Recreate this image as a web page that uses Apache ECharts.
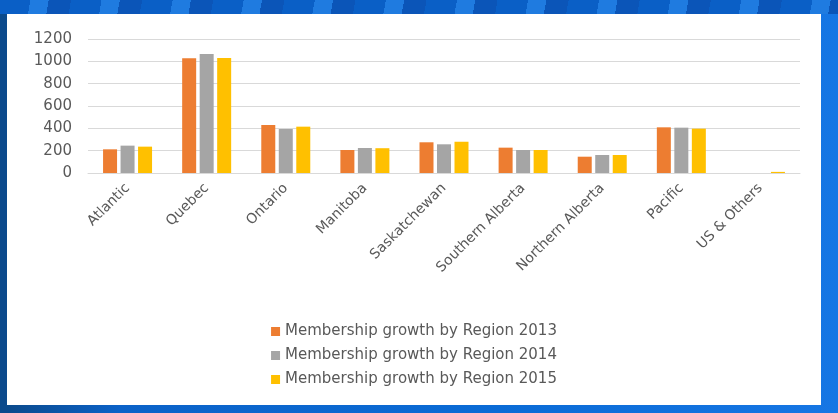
<!DOCTYPE html>
<html><head><meta charset="utf-8">
<script src="https://cdn.jsdelivr.net/npm/echarts@6/dist/echarts.min.js"></script>
<style>
html,body{margin:0;padding:0;width:838px;height:413px;overflow:hidden;}
body{background:linear-gradient(to right,#0b4a8c 0px,#0b4a8c 7px,#0b62c8 120px,#0a6bd6 500px,#1676e4 838px);}
#top{position:absolute;left:0;top:0;width:838px;height:14px;background:repeating-linear-gradient(100deg,#0a5fc6 0px,#0a5fc6 30px,#1f7be0 30px,#1f7be0 48px,#0b55b8 48px,#0b55b8 70px);}
#c{position:absolute;left:7px;top:14px;width:814px;height:391px;background:#fff;}
</style></head>
<body><div id="top"></div><div id="c"></div>
<script>
const categories = ['Atlantic','Quebec','Ontario','Manitoba','Saskatchewan','Southern Alberta','Northern Alberta','Pacific','US & Others'];
const seriesNames = ['Membership growth by Region 2013','Membership growth by Region 2014','Membership growth by Region 2015'];
const values2013 = [212,1027,430,206,275,227,146,409,0];
const values2014 = [245,1065,394,224,257,206,161,406,0];
const values2015 = [236,1030,415,222,280,206,161,397,10];
const yTicks = [0,200,400,600,800,1000,1200];
const colors = ['#ED7D31','#A5A5A5','#FFC000'];
const font = 'DejaVu Sans';
const chart = echarts.init(document.getElementById('c'));
const data = [values2013, values2014, values2015];
chart.setOption({
  animation:false,
  color:colors,
  grid:{left:81,right:21,top:25,bottom:232},
  legend:{orient:'vertical',left:'center',top:305,itemWidth:9,itemHeight:9,itemGap:9,icon:'rect',
    textStyle:{fontFamily:font,fontSize:15,color:'#595959'},data:seriesNames},
  xAxis:{type:'category',data:categories,
    axisLine:{lineStyle:{color:'#d9d9d9',width:1}},axisTick:{show:false},
    axisLabel:{rotate:45,interval:0,fontFamily:font,fontSize:14,color:'#595959',margin:13}},
  yAxis:{type:'value',min:yTicks[0],max:yTicks[yTicks.length-1],interval:200,
    axisLine:{show:false},axisTick:{show:false},
    splitLine:{lineStyle:{color:'#d9d9d9',width:1}},
    axisLabel:{fontFamily:font,fontSize:15,color:'#595959',margin:16,formatter:v=>String(v)}},
  series:seriesNames.map((n,i)=>({name:n,type:'bar',data:data[i],barWidth:14,barGap:'25%',barCategoryGap:'40%'}))
});
</script></body></html>
